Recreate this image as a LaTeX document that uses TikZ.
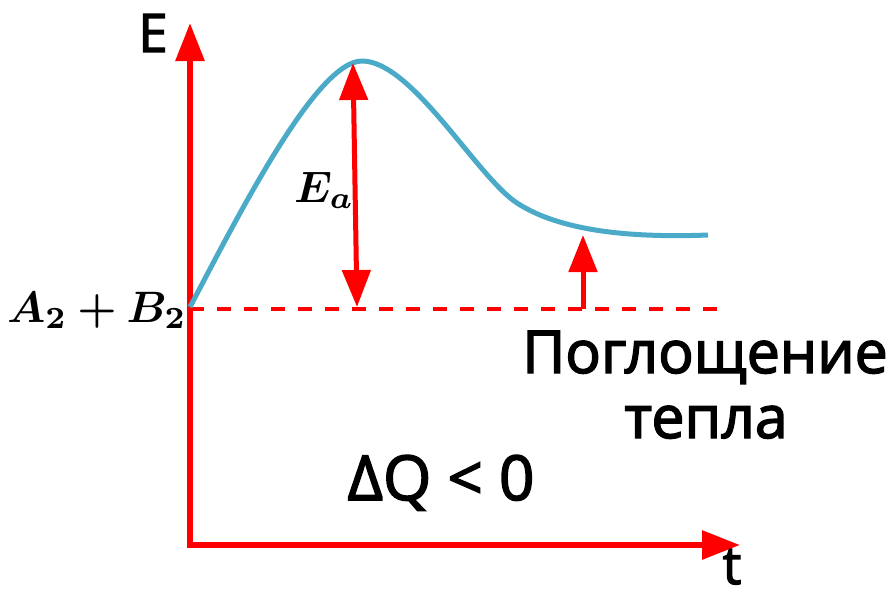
\documentclass[tikz,border=0pt]{standalone}
\usepackage{graphicx}
\usepackage{bm}
\usepackage{fontspec}
\newfontfamily\lblfont{Open Sans}[FakeBold=2.5]
\usetikzlibrary{arrows.meta}
\definecolor{axisred}{RGB}{255,0,0}
\definecolor{curveblue}{RGB}{75,170,200}
\tikzset{
  axisline/.style={draw=axisred, line width=6pt, -{Triangle[length=38pt,width=28pt]}},
  energyarrow/.style={draw=axisred, line width=5pt, {Triangle[length=37pt,width=28pt]}-{Triangle[length=37pt,width=28pt]}},
  uparrow/.style={draw=axisred, line width=5pt, -{Triangle[length=37pt,width=28pt]}},
  levelline/.style={draw=axisred, line width=3.5pt, dash pattern=on 14pt off 13pt},
  profile/.style={draw=curveblue, line width=5pt},
  lbl/.style={font=\lblfont\fontsize{59}{64}\selectfont, inner sep=0pt},
  mathlbl/.style={font=\fontsize{10}{12}\selectfont, inner sep=0pt}
}
\begin{document}
\begin{tikzpicture}[x=1pt,y=-1pt]
\path[use as bounding box] (0,0) rectangle (891,595);
\coordinate (Ybot) at (190,547);
\coordinate (Ytop) at (190,23);
\coordinate (Xbeg) at (187,545);
\coordinate (Xend) at (740,545);
\coordinate (R) at (190,309);
\coordinate (Rend) at (718,309);
\coordinate (Peak) at (353,63);
\coordinate (Pbase) at (357,307);
\coordinate (Prod) at (583,235);
\coordinate (Pbase2) at (583,309);
% level line
\draw[levelline] (R) -- (Rend);
% axes
\draw[axisline] (Ybot) -- (Ytop);
\draw[axisline] (Xbeg) -- (Xend);
% curve
\draw[profile] (190,307) .. controls (241,210) and (317,61) .. (362,61)
  .. controls (412,61) and (477,177) .. (517,203)
  .. controls (560,231) and (630,238) .. (708,235);
% arrows
\draw[energyarrow] (Pbase) -- (Peak);
\draw[uparrow] (Pbase2) -- (Prod);
% labels
\node[lbl, font=\lblfont\fontsize{53}{58}\selectfont] (E) at (153,33) {E};
\node[lbl, anchor=base, font=\lblfont\fontsize{53}{58}\selectfont] (t) at (732,584) {t};
\node[mathlbl, anchor=base] (AB) at (97,322) {\scalebox{4.4}{$\bm{A_2+B_2}$}};
\node[mathlbl, anchor=base west] (Ea) at (294,202) {\scalebox{4.4}{$\bm{E_a}$}};
\node[lbl, anchor=base] (heat1) at (705,373) {Поглощение};
\node[lbl, anchor=base] (heat2) at (706,438) {тепла};
\node[lbl, anchor=base, font=\lblfont\fontsize{62}{66}\selectfont] (dQ) at (441,500) {ΔQ < 0};
\end{tikzpicture}
\end{document}
